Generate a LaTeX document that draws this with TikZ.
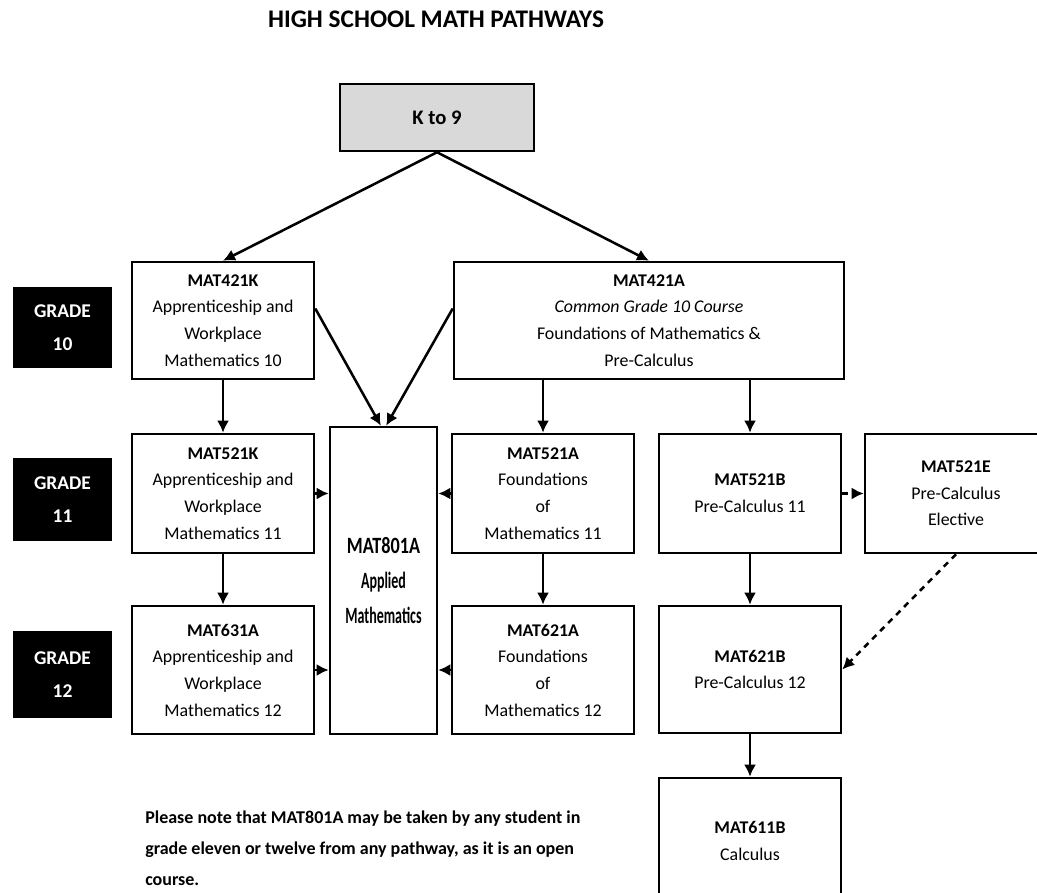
\documentclass[tikz,border=0pt]{standalone}
\usepackage{fontspec}
\setmainfont{Carlito}
\usepackage{graphicx}
\usetikzlibrary{arrows.meta}
\definecolor{kgray}{HTML}{D9D9D9}
\tikzset{
  course/.style={
    rectangle, draw=black, line width=1.9pt,
    align=center, inner sep=2pt,
    font=\fontsize{13.4}{20}\selectfont
  },
  box/.style 2 args={
    course, minimum width=#1, minimum height=#2
  },
  grade/.style={
    rectangle, fill=black, text=white, align=center,
    minimum width=74.25pt,
    font=\fontsize{14.6}{25}\selectfont\bfseries
  },
  flow/.style={line width=1.9pt, -{Latex[length=9pt,width=9pt]}},
  optional/.style={flow, dash pattern=on 4.5pt off 4pt}
}

\begin{document}
\begin{tikzpicture}[>=latex, x=0.75pt, y=-0.75pt]
\clip (0,0) rectangle (1037,892);
\fill[white] (0,0) rectangle (1037,892);

\node[font=\fontsize{19}{23}\selectfont\bfseries] (title) at (436,19)
  {HIGH SCHOOL MATH PATHWAYS};

\node[box={145.5pt}{50.25pt}, fill=kgray,
  font=\fontsize{15.5}{20}\selectfont\bfseries] (k9) at (437,117.5) {K to 9};

% grade 10

\node[grade, minimum height=60.75pt] (g10) at (62.5,327.5) {GRADE\\10};
\node[box={136.5pt}{87.75pt}] (k421) at (223,320.5)
  {\textbf{MAT421K}\\Apprenticeship and\\Workplace\\Mathematics 10};
\node[box={292.5pt}{87.75pt}] (a421) at (649,320.5)
  {\textbf{MAT421A}\\\textit{Common Grade 10 Course}\\Foundations of Mathematics \&\\Pre-Calculus};

% grade 11

\node[grade, minimum height=62.25pt] (g11) at (62.5,499.5) {GRADE\\11};
\node[box={136.5pt}{89.25pt}] (k521) at (223,493.5)
  {\textbf{MAT521K}\\Apprenticeship and\\Workplace\\Mathematics 11};
\node[box={80.25pt}{230.25pt}, font=\fontsize{17.5}{26}\selectfont\bfseries]
  (m801) at (383.5,580.5)
  {\scalebox{0.78}[1]{MAT801A}\\\scalebox{0.6}[1]{Applied}\\\scalebox{0.6}[1]{Mathematics}};
\node[box={136.5pt}{89.25pt}] (a521) at (543,493.5)
  {\textbf{MAT521A}\\Foundations\\of\\Mathematics 11};
\node[box={136.5pt}{89.25pt}] (b521) at (750,493.5)
  {\textbf{MAT521B}\\Pre-Calculus 11};
\node[box={136.5pt}{89.25pt}] (e521) at (956,493.5)
  {\textbf{MAT521E}\\Pre-Calculus\\Elective};

% grade 12

\node[grade, minimum height=65.25pt] (g12) at (62.5,674.5) {GRADE\\12};
\node[box={136.5pt}{96pt}] (a631) at (223,670)
  {\textbf{MAT631A}\\Apprenticeship and\\Workplace\\Mathematics 12};
\node[box={136.5pt}{96pt}] (a621) at (543,670)
  {\textbf{MAT621A}\\Foundations\\of\\Mathematics 12};
\node[box={136.5pt}{95.25pt}] (b621) at (750,669.5)
  {\textbf{MAT621B}\\Pre-Calculus 12};
\node[box={136.5pt}{94.5pt}] (b611) at (750,841)
  {\textbf{MAT611B}\\Calculus};

\node[anchor=north west, align=left, inner sep=0pt,
  font=\fontsize{13.5}{23}\selectfont\bfseries] (note) at (145,811)
  {Please note that MAT801A may be taken by any student in\\
   grade eleven or twelve from any pathway, as it is an open\\
   course.};

% arrows

\coordinate (kout) at ([yshift=9pt]k421.east);
\coordinate (aout) at ([yshift=9pt]a421.west);

\draw[flow] (k9.south) -- (k421.north);
\draw[flow] (k9.south) -- (a421.north);
\draw[flow] (kout) -- ([xshift=-2pt]m801.north);
\draw[flow] (aout) -- ([xshift=2pt]m801.north);

\draw[flow] (k421.south) -- (k521.north);
\draw[flow] (k521.south) -- (a631.north);
\draw[flow] (a421.south -| a521.north) -- (a521.north);
\draw[flow] (a521.south) -- (a621.north);
\draw[flow] (a421.south -| b521.north) -- (b521.north);
\draw[flow] (b521.south) -- (b621.north);
\draw[flow] (b621.south) -- (b611.north);

\draw[flow] (k521.east) -- (k521.east -| m801.west);
\draw[flow] (a631.east) -- (a631.east -| m801.west);
\draw[flow] (a521.west) -- (a521.west -| m801.east);
\draw[flow] (a621.west) -- (a621.west -| m801.east);

\draw[optional] (b521.east) -- (e521.west);
\draw[optional] (e521.south) -- (b621.east);

\end{tikzpicture}
\end{document}
